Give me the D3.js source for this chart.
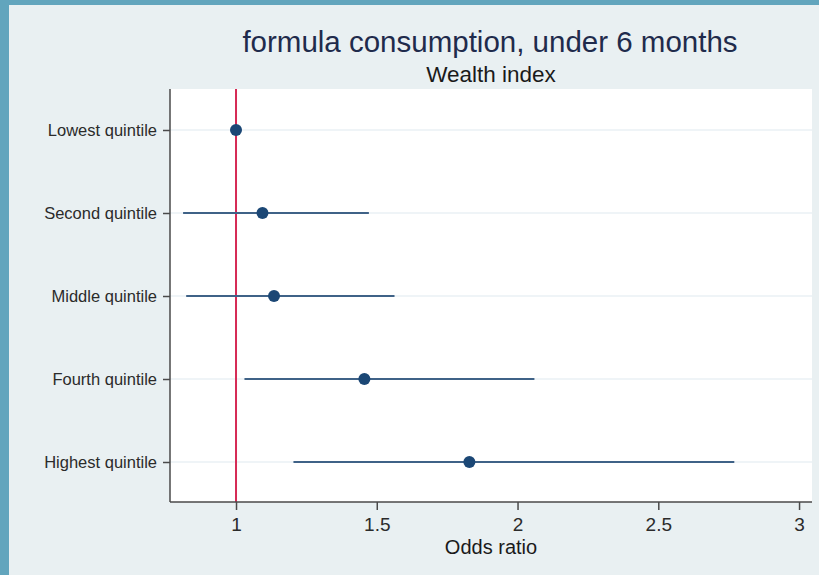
<!DOCTYPE html>
<html>
<head>
<meta charset="utf-8">
<script src="https://cdn.jsdelivr.net/npm/d3@7"></script>
<style>
  html, body { margin: 0; padding: 0; background: #e9f0f2; }
  svg { display: block; font-family: "Liberation Sans", Arial, sans-serif; }
</style>
</head>
<body>
<svg id="chart" width="819" height="575"></svg>
<script>
// Odds ratios of formula consumption (under 6 months) by wealth quintile
const categories = ["Lowest quintile", "Second quintile", "Middle quintile", "Fourth quintile", "Highest quintile"];
const oddsRatio = [1.0, 1.094, 1.135, 1.456, 1.829];
const ciLower = [null, 0.812, 0.823, 1.030, 1.204];
const ciUpper = [null, 1.472, 1.563, 2.060, 2.770];
const xTicks = [1, 1.5, 2, 2.5, 3];

const title = "formula consumption, under 6 months";
const subtitle = "Wealth index";
const xTitle = "Odds ratio";

const W = 819, H = 575;
const plot = { left: 170, right: 812, top: 89, bottom: 502 };

const svg = d3.select("#chart");

// page frame: background with blue strips on the left and top edges
svg.append("rect").attr("width", W).attr("height", H).attr("fill", "#e9f0f2");
svg.append("rect").attr("x", 0).attr("y", 0).attr("width", 9).attr("height", H).attr("fill", "#62a5bd");
svg.append("rect").attr("x", 0).attr("y", 0).attr("width", W).attr("height", 5).attr("fill", "#62a5bd");

const x = d3.scaleLinear().domain([0.7655, 3.046]).range([plot.left, plot.right]);
const y = d3.scalePoint().domain(categories).range([130, 462]);

// plot region
svg.append("rect")
  .attr("x", plot.left).attr("y", plot.top)
  .attr("width", plot.right - plot.left).attr("height", plot.bottom - plot.top)
  .attr("fill", "#ffffff");

// faint horizontal guide lines per category
svg.append("g").selectAll("line").data(categories).join("line")
  .attr("x1", plot.left).attr("x2", plot.right)
  .attr("y1", d => y(d)).attr("y2", d => y(d))
  .attr("stroke", "#eaf1f4").attr("stroke-width", 1.5);

// reference line at OR = 1
svg.append("line")
  .attr("x1", x(1)).attr("x2", x(1))
  .attr("y1", plot.top).attr("y2", plot.bottom)
  .attr("stroke", "#d62a55").attr("stroke-width", 2);

// confidence intervals
const rows = categories.map((c, i) => ({ c, or: oddsRatio[i], lo: ciLower[i], hi: ciUpper[i] }));
svg.append("g").selectAll("line").data(rows.filter(d => d.lo != null)).join("line")
  .attr("x1", d => x(d.lo)).attr("x2", d => x(d.hi))
  .attr("y1", d => y(d.c)).attr("y2", d => y(d.c))
  .attr("stroke", "#3f6287").attr("stroke-width", 2);

// point estimates
svg.append("g").selectAll("circle").data(rows).join("circle")
  .attr("cx", d => x(d.or)).attr("cy", d => y(d.c)).attr("r", 6)
  .attr("fill", "#1b4775");

// axes
const xAxis = svg.append("g")
  .attr("transform", `translate(0,${plot.bottom})`)
  .call(d3.axisBottom(x).tickValues(xTicks).tickFormat(d3.format("~g")).tickSize(8).tickPadding(8));
xAxis.select(".domain").attr("d", `M${plot.left},0H${plot.right}`);

const yAxis = svg.append("g")
  .attr("transform", `translate(${plot.left},0)`)
  .call(d3.axisLeft(y).tickSize(7).tickPadding(6));
yAxis.select(".domain").attr("d", `M0,${plot.top}V${plot.bottom}`);

[xAxis, yAxis].forEach(g => {
  g.selectAll(".domain").attr("stroke", "#4a4a4a").attr("stroke-width", 1.5);
  g.selectAll(".tick line").attr("stroke", "#4a4a4a").attr("stroke-width", 1.5);
  g.selectAll(".tick text").attr("fill", "#2b2b2b")
    .style("font-family", "'Liberation Sans', Arial, sans-serif");
});
xAxis.selectAll(".tick text").style("font-size", "19px");
yAxis.selectAll(".tick text").style("font-size", "16.5px");

// titles
svg.append("text").attr("x", 490).attr("y", 52).attr("text-anchor", "middle")
  .attr("fill", "#1f2b4c").style("font-size", "29.5px").text(title);
svg.append("text").attr("x", 491).attr("y", 82).attr("text-anchor", "middle")
  .attr("fill", "#1a1a1a").style("font-size", "22.5px").text(subtitle);
svg.append("text").attr("x", 491).attr("y", 554).attr("text-anchor", "middle")
  .attr("fill", "#1a1a1a").style("font-size", "20px").text(xTitle);
</script>
</body>
</html>
